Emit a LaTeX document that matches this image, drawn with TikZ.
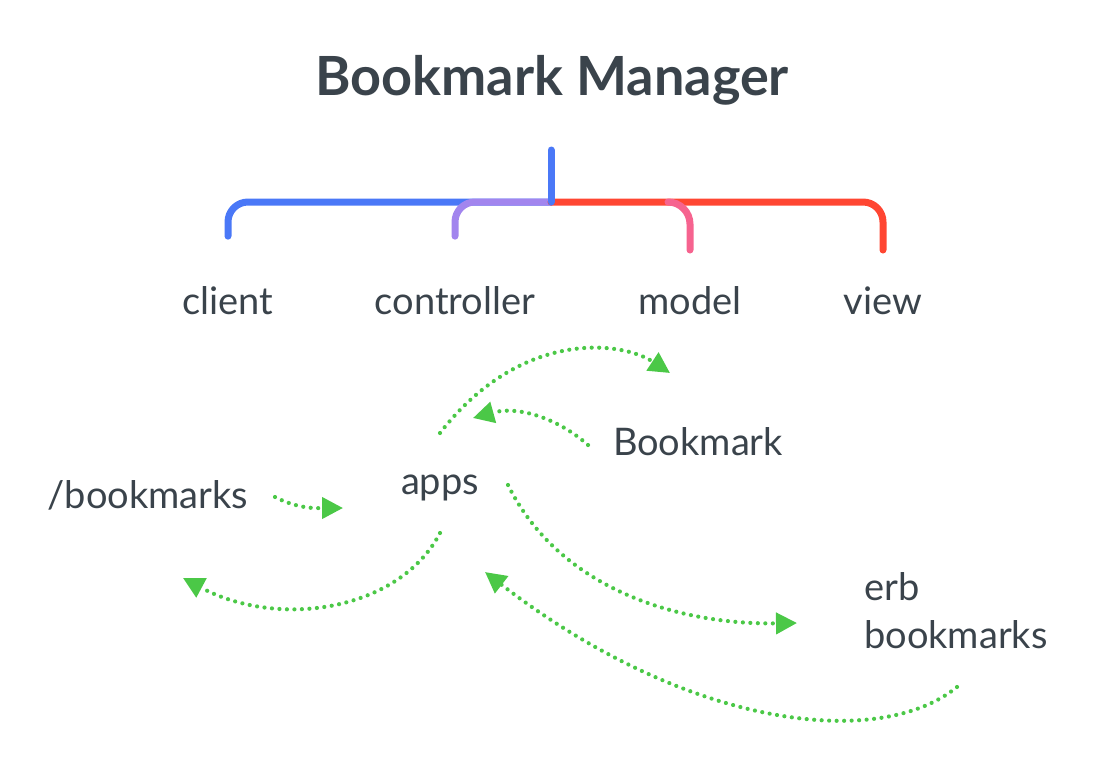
\documentclass[tikz,border=0pt]{standalone}
\usepackage{fontspec}
\setmainfont{Lato}
\usetikzlibrary{arrows.meta}
\definecolor{ink}{HTML}{3A434B}
\definecolor{cblue}{HTML}{4A78F7}
\definecolor{cpurple}{HTML}{A285EE}
\definecolor{cred}{HTML}{FF4632}
\definecolor{cpink}{HTML}{F6638F}
\definecolor{cgreen}{HTML}{4BC847}
\begin{document}
\begin{tikzpicture}[x=1pt,y=-1pt,>={Triangle[length=21pt,width=21pt]},line cap=round,line join=round,
	font=\fontsize{38}{46}\selectfont,text=ink,
	brk/.style={line width=7pt,rounded corners=20pt},
	flow/.style={->,cgreen,line width=4.2pt,dash pattern=on 0pt off 7.5pt},
	lbl/.style={anchor=base,inner sep=0pt}]
	\useasboundingbox (0,0) rectangle (1116,780);
	\node[lbl,font=\fontsize{54}{64}\selectfont\bfseries] (title) at (552,95) {Bookmark Manager};
	% branches
	\node[lbl] (client) at (228,314) {client};
	\node[lbl] (controller) at (455,314) {controller};
	\node[lbl] (model) at (690,314) {model};
	\node[lbl] (view) at (883,314) {view};
	\coordinate (hub) at (551,202);
	\coordinate (root) at (551,150);
	\draw[brk,cblue] (client) ++(0,-64) |- (hub);
	\draw[brk,cpurple] (controller) ++(0,-64) |- (hub);
	\draw[brk,cred] (hub) -| ([shift={(0,-64)}]view.base);
	\draw[line width=7pt,cpink] (668,202) .. controls (680,202) and (690,212) .. (690,224) -- ([shift={(0,-64)}]model.base);
	\draw[brk,cblue] (root)--(hub);
	% flow
	\node[lbl] (slash) at (148,508) {/bookmarks};
	\node[lbl] (apps) at (440,494) {apps};
	\node[lbl] (bmark) at (698,455) {Bookmark};
	\node[lbl,anchor=base west] (erb) at (864,600) {erb};
	\node[lbl,anchor=base west] (erbb) at (864,648) {bookmarks};
	\draw[flow] ([shift={(127,-11)}]slash.base) .. controls (300,510) and (320,508) .. ([shift={(-97,14)}]apps.base);
	\draw[flow] ([shift={(0,-61)}]apps.base) .. controls (520,330) and (620,340) .. ([shift={(-20,59)}]model.base);
	\draw[flow] ([shift={(-110,-10)}]bmark.base) .. controls (560,420) and (520,405) .. ([shift={(33,-76)}]apps.base);
	\draw[flow] ([shift={(0,39)}]apps.base) .. controls (400,610) and (280,630) .. ([shift={(35,70)}]slash.base);
	\draw[flow] ([shift={(68,-9)}]apps.base) .. controls (560,590) and (680,625) .. ([shift={(-67,23)}]erb.base west);
	\draw[flow] ([shift={(93,39)}]erbb.base west) .. controls (880,750) and (690,730) .. ([shift={(45,78)}]apps.base);
\end{tikzpicture}
\end{document}
